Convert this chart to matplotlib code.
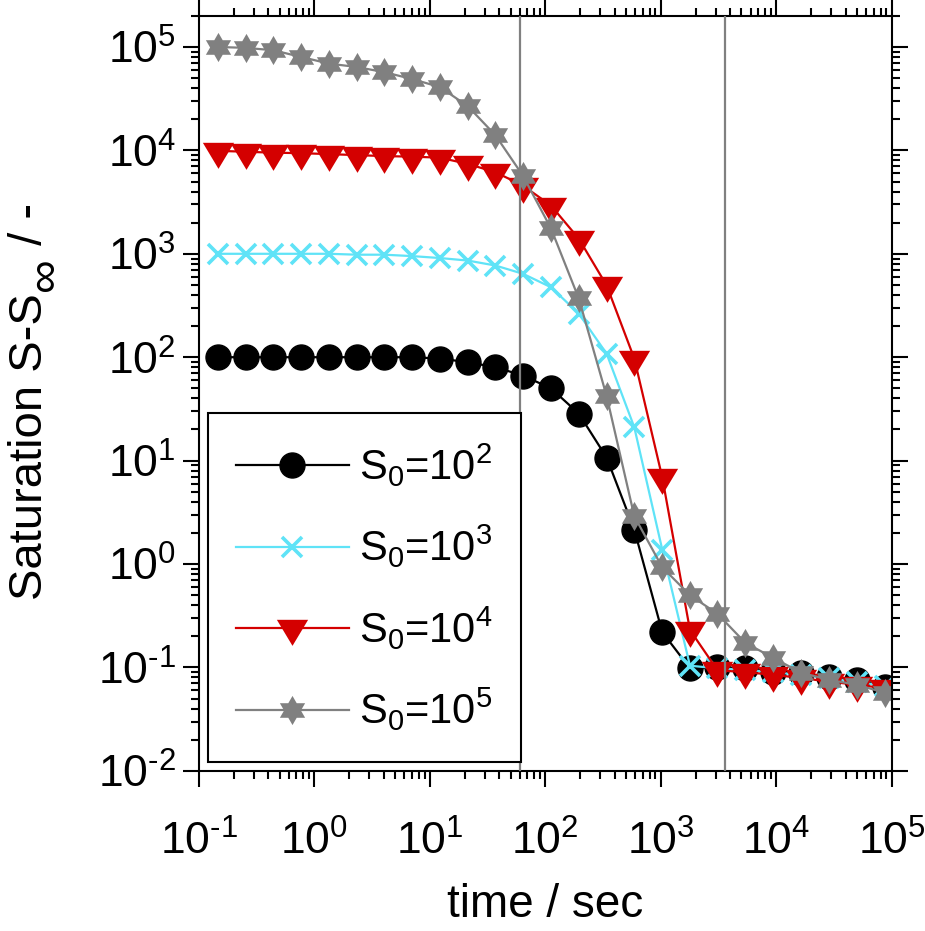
import math
import matplotlib
matplotlib.use("Agg")
import matplotlib.pyplot as plt
from matplotlib.path import Path
from matplotlib.ticker import LogLocator, NullFormatter, FuncFormatter

plt.rcParams["font.family"] = ["Liberation Sans", "DejaVu Sans"]
plt.rcParams["mathtext.fontset"] = "custom"
plt.rcParams["mathtext.rm"] = "Liberation Sans"
plt.rcParams["mathtext.it"] = "Liberation Sans"
plt.rcParams["mathtext.default"] = "regular"

# time of each sample / sec
time = [0.146, 0.254, 0.44, 0.77, 1.34, 2.33, 4.05, 7.0, 12.2, 21.3, 37, 64,
        112, 195, 340, 590, 1030, 1790, 3100, 5400, 9400, 16400, 28500, 50000, 87000]

s_1e2 = [100, 100, 100, 100, 100, 100, 100, 100, 97, 89.5, 80, 66.5,
         50, 28.5, 10.7, 2.15, 0.22, 0.098, 0.1, 0.099, 0.091, 0.089, 0.081, 0.076, 0.065]
s_1e3 = [1000, 1000, 1000, 1000, 1000, 980, 980, 950, 910, 860, 770, 641,
         475, 264, 108, 21, 1.38, 0.104, 0.098, 0.095, 0.09, 0.085, 0.079, 0.073, 0.066]
s_1e4 = [9900, 9700, 9500, 9400, 9200, 9000, 8800, 8700, 8500, 7400, 6150, 4570,
         2930, 1400, 494, 97, 6.9, 0.23, 0.094, 0.09, 0.085, 0.079, 0.073, 0.068, 0.063]
s_1e5 = [100000, 98000, 93000, 80000, 69000, 64000, 57000, 49000, 41000, 26800, 14000, 5700,
         1760, 370, 42, 2.9, 0.93, 0.5, 0.33, 0.173, 0.124, 0.089, 0.076, 0.068, 0.057]

labels = [r"S$_0$=10$^2$", r"S$_0$=10$^3$", r"S$_0$=10$^4$", r"S$_0$=10$^5$"]
marked_times = [60, 3600]  # one minute, one hour

# downward triangle with its centroid on the point, six pointed star
tri_down = Path([(-1.2, 0.667), (1.2, 0.667), (0, -1.333), (-1.2, 0.667)],
                [Path.MOVETO, Path.LINETO, Path.LINETO, Path.CLOSEPOLY])
hexagram = Path.unit_regular_star(6, 0.577)


def pow10(v, pos):
    # short hyphen in the exponent, like the original
    e = int(round(math.log10(v)))
    return r"$\mathdefault{10^{%s}}$" % str(e).replace("-", "\u2010")


W, H = 925, 931
fig = plt.figure(figsize=(W / 100, H / 100), dpi=100)
ax = fig.add_axes([0.215, 0.172, 0.749, 0.811])

ax.plot(time, s_1e2, color="black", lw=1.6, marker="o", ms=18, label=labels[0])
ax.plot(time, s_1e3, color="#5fe3f7", lw=1.6, marker="x", ms=14, mew=2.6, label=labels[1])
ax.plot(time, s_1e4, color="#d40000", lw=1.6, marker=tri_down, ms=25, mew=0, label=labels[2])
ax.plot(time, s_1e5, color="#808080", lw=1.6, marker=hexagram, ms=21, mew=0, label=labels[3])

for t in marked_times:
    ax.axvline(t, color="#808080", lw=1.6, zorder=5)

ax.set_xscale("log")
ax.set_yscale("log")
ax.set_xlim(0.1, 1e5)
ax.set_ylim(1e-2, 2e5)
for axis in (ax.xaxis, ax.yaxis):
    axis.set_major_locator(LogLocator(base=10, numticks=20))
    axis.set_major_formatter(FuncFormatter(pow10))
    axis.set_minor_locator(LogLocator(base=10, subs=range(2, 10), numticks=20))
    axis.set_minor_formatter(NullFormatter())

ax.set_xlabel("time / sec", fontsize=33, labelpad=14)

for side in ax.spines.values():
    side.set_linewidth(1.5)
ax.tick_params(which="both", direction="out", top=True, right=True, width=1.5)
ax.tick_params(which="major", length=11.5, labelsize=32)
ax.tick_params(axis="x", which="major", pad=24)
ax.tick_params(axis="y", which="major", pad=5)
ax.tick_params(which="minor", length=5.8)

leg = ax.legend(loc="lower left", bbox_to_anchor=(0.013, 0.012), borderaxespad=0,
                fontsize=30, handlelength=2.7, handletextpad=0.24, borderpad=0.68,
                labelspacing=0.82,
                fancybox=False, framealpha=1, edgecolor="black")
leg.get_frame().set_linewidth(1.5)

# y label in three pieces so the infinity subscript can be full size
renderer = fig.canvas.get_renderer()
ylab = dict(rotation=90, rotation_mode="anchor", ha="left", va="baseline", fontsize=34)
t1 = fig.text(42 / W, 1 - 600 / H, "Saturation S-S", **ylab)
y1 = t1.get_window_extent(renderer).y1
t2 = fig.text(58 / W, (y1 + 2) / H, "\u221e", **ylab)
y2 = t2.get_window_extent(renderer).y1
fig.text(42 / W, y2 / H, " / -", **ylab)

fig.savefig("out.png", dpi=100)
